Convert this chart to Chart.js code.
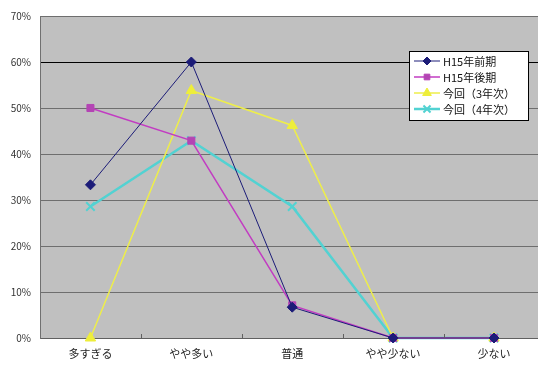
<!DOCTYPE html>
<html>
<head>
<meta charset="utf-8">
<script src="https://cdn.jsdelivr.net/npm/chart.js@4/dist/chart.umd.min.js"></script>
<style>
  html, body { margin: 0; padding: 0; background: #fff; overflow: hidden; }
  #wrap { width: 538px; height: 365px; }
</style>
</head>
<body>
<div id="wrap"><canvas id="c" width="538" height="365"></canvas></div>
<script>
// 回答区分
const categories = ['多すぎる', 'やや多い', '普通', 'やや少ない', '少ない'];

// 各回の回答割合（%）
const seriesNames = ['H15年前期', 'H15年後期', '今回（3年次）', '今回（4年次）'];
const h15First  = [33.3, 60.0, 6.7, 0, 0];
const h15Second = [50.0, 42.9, 7.1, 0, 0];
const year3     = [0, 53.8, 46.2, 0, 0];
const year4     = [28.6, 42.9, 28.6, 0, 0];

// 縦軸目盛
const yTicks = [0, 10, 20, 30, 40, 50, 60, 70];

const FONT = '"Noto Sans CJK JP", "Noto Sans", sans-serif';

// 区分番号を横軸の位置にした点列
const toPoints = arr => arr.map((v, i) => ({ x: i, y: v }));

// 描画領域の背景と、横軸の内向き目盛線
const plotDecor = {
  id: 'plotDecor',
  beforeDraw(chart) {
    const { ctx, chartArea: a } = chart;
    ctx.save();
    ctx.fillStyle = '#c0c0c0';
    ctx.fillRect(a.left, a.top, a.right - a.left, a.bottom - a.top);
    ctx.restore();
  },
  afterDatasetsDraw(chart) {
    const { ctx, chartArea: a, scales } = chart;
    const x = scales.x;
    ctx.save();
    ctx.strokeStyle = '#606060';
    ctx.lineWidth = 1;
    for (let i = 0; i < categories.length - 1; i++) {
      const px = Math.round(x.getPixelForValue(i + 0.5)) + 0.5;
      ctx.beginPath();
      ctx.moveTo(px, a.bottom);
      ctx.lineTo(px, a.bottom - 4);
      ctx.stroke();
    }
    ctx.restore();
  }
};

// 凡例（描画領域内の右上に枠付きで表示）
const boxLegend = {
  id: 'boxLegend',
  afterDraw(chart) {
    const { ctx } = chart;
    const x0 = 409, y0 = 51, w = 119, h = 69, rowH = 16;
    ctx.save();
    ctx.fillStyle = '#ffffff';
    ctx.fillRect(x0, y0, w, h);
    ctx.strokeStyle = '#000000';
    ctx.lineWidth = 1;
    ctx.strokeRect(x0 + 0.5, y0 + 0.5, w, h);
    ctx.font = '11px ' + FONT;
    ctx.textBaseline = 'middle';
    chart.data.datasets.forEach((ds, i) => {
      const cy = y0 + 10 + i * rowH;
      ctx.strokeStyle = ds.borderColor;
      ctx.lineWidth = ds.borderWidth;
      ctx.beginPath();
      ctx.moveTo(x0 + 5, cy);
      ctx.lineTo(x0 + 31, cy);
      ctx.stroke();
      ctx.fillStyle = ds.pointBackgroundColor;
      ctx.strokeStyle = ds.pointBorderColor;
      ctx.lineWidth = ds.pointBorderWidth || 1;
      Chart.helpers.drawPoint(ctx, {
        pointStyle: ds.pointStyle,
        radius: ds.pointRadius - 1,
        borderWidth: ds.pointBorderWidth || 1,
        rotation: 0
      }, x0 + 18, cy);
      ctx.fillStyle = '#111111';
      ctx.fillText(ds.label, x0 + 34, cy + 1);
    });
    ctx.restore();
  }
};

const datasets = [
  {
    label: seriesNames[0], data: toPoints(h15First),
    borderColor: '#1c1c78', backgroundColor: '#1c1c78',
    borderWidth: 1, pointStyle: 'rectRot', pointRadius: 5,
    pointBackgroundColor: '#1c1c78', pointBorderColor: '#1c1c78', pointBorderWidth: 1
  },
  {
    label: seriesNames[1], data: toPoints(h15Second),
    borderColor: '#c23cc2', backgroundColor: '#c23cc2',
    borderWidth: 1.5, pointStyle: 'rect', pointRadius: 5,
    pointBackgroundColor: '#b444b4', pointBorderColor: '#b444b4', pointBorderWidth: 1
  },
  {
    label: seriesNames[2], data: toPoints(year3),
    borderColor: '#eeee4a', backgroundColor: '#eeee4a',
    borderWidth: 1.5, pointStyle: 'triangle', pointRadius: 6,
    pointBackgroundColor: '#eeee3a', pointBorderColor: '#eeee3a', pointBorderWidth: 1
  },
  {
    label: seriesNames[3], data: toPoints(year4),
    borderColor: '#52d2d2', backgroundColor: '#52d2d2',
    borderWidth: 2.5, pointStyle: 'crossRot', pointRadius: 6,
    pointBackgroundColor: '#52d2d2', pointBorderColor: '#52d2d2', pointBorderWidth: 2
  }
].map(d => Object.assign(d, { clip: false }));

new Chart(document.getElementById('c'), {
  type: 'line',
  data: { datasets },
  plugins: [plotDecor, boxLegend],
  options: {
    responsive: false,
    animation: false,
    layout: { autoPadding: false, padding: { top: 16, right: 0, left: 0, bottom: 0 } },
    plugins: { legend: { display: false }, tooltip: { enabled: false } },
    elements: { line: { tension: 0 } },
    scales: {
      x: {
        type: 'linear',
        min: -0.5, max: 4.436,
        afterBuildTicks(s) { s.ticks = categories.map((_, i) => ({ value: i })); },
        grid: { display: false, drawTicks: false },
        border: { display: true, color: '#606060', width: 1 },
        ticks: {
          color: '#222222', font: { family: FONT, size: 11 }, padding: 9, maxRotation: 0,
          autoSkip: false,
          callback: v => categories[v]
        },
        afterFit(s) { s.height = 27; s.paddingLeft = 0; s.paddingRight = 0; }
      },
      y: {
        min: 0, max: 70,
        afterBuildTicks(s) { s.ticks = yTicks.map(v => ({ value: v })); },
        grid: {
          drawTicks: false,
          color: c => (c.tick && c.tick.value === 60) ? '#000000' : '#6e6e6e',
          lineWidth: 1
        },
        border: { display: true, color: '#707070', width: 1 },
        ticks: {
          color: '#333333', font: { family: FONT, size: 10 }, padding: 9,
          callback: v => v + '%'
        },
        afterFit(s) { s.width = 40; }
      }
    }
  }
});
</script>
</body>
</html>
